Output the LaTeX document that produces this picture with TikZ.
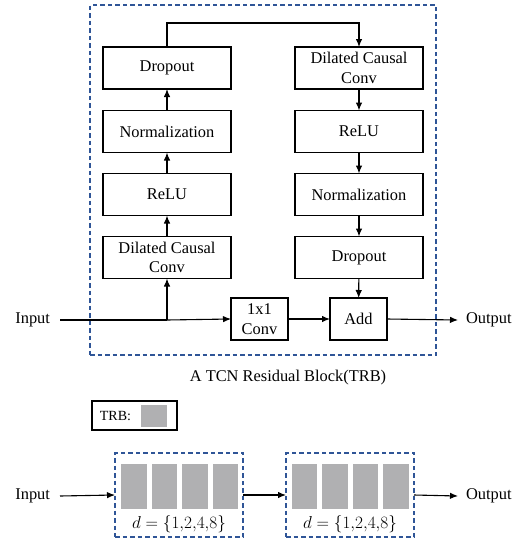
\documentclass[tikz,border=0pt]{standalone}
\usepackage{fontspec}
\setmainfont{Liberation Serif}
\usetikzlibrary{arrows.meta}
\definecolor{dashblue}{RGB}{47,85,151}
\definecolor{trbgray}{RGB}{176,176,178}
\begin{document}
\begin{tikzpicture}[x=1pt,y=-1pt,
  font=\fontsize{16.4}{19.5}\selectfont,
  every node/.style={inner sep=0pt, outer sep=0pt},
  blockbox/.style={draw, line width=1.1pt, minimum width=128pt, minimum height=42pt, align=center},
  smallbox/.style={draw, line width=1.1pt, minimum width=57pt, minimum height=42pt, align=center},
  dashframe/.style={draw=dashblue, line width=1.1pt, dash pattern=on 4.5pt off 3pt},
  trbcell/.style={fill=trbgray, minimum width=25.5pt, minimum height=45pt},
  flow/.style={line width=1.1pt, -{Latex[length=8pt,width=6.5pt]}},
  plain/.style={line width=1.1pt}]
\useasboundingbox (0,0) rectangle (524,541);

% residual block frame
\node[dashframe, minimum width=346pt, minimum height=350pt] (frame) at (263,180) {};

% left branch (bottom to top)
\node[blockbox] (ldcc) at (167,257.5) {Dilated Causal\\Conv};
\node[blockbox] (lrelu) at (167,194.5) {ReLU};
\node[blockbox] (lnorm) at (167,131.5) {Normalization};
\node[blockbox] (ldrop) at (167,68) {Dropout};

% right branch (top to bottom)
\node[blockbox] (rdcc) at (359,68) {Dilated Causal\\Conv};
\node[blockbox] (rrelu) at (359,131.5) {ReLU};
\node[blockbox] (rnorm) at (359,194.5) {Normalization};
\node[blockbox] (rdrop) at (359,257.5) {Dropout};

% shortcut path
\node[smallbox] (conv) at (259.5,319) {1x1\\Conv};
\node[smallbox] (add) at (358.5,319) {Add};

\node[anchor=east] (in) at (50,320) {Input};
\node[anchor=west] (out) at (466,320) {Output};
\coordinate (split) at (167,320);
\coordinate (inend) at (60,320);
\coordinate (outend) at (458,320);
\coordinate (topl) at (167,23);
\coordinate (topr) at (359,23);

\draw[plain] (inend) -- (split);
\draw[flow] (split) -- (conv.west);
\draw[flow] (split) -- (ldcc.south);
\draw[flow] (ldcc) -- (lrelu);
\draw[flow] (lrelu) -- (lnorm);
\draw[flow] (lnorm) -- (ldrop);
\draw[flow] (ldrop.north) -- (topl) -- (topr) -- (rdcc.north);
\draw[flow] (rdcc) -- (rrelu);
\draw[flow] (rrelu) -- (rnorm);
\draw[flow] (rnorm) -- (rdrop);
\draw[flow] (rdrop) -- (add);
\draw[flow] (conv) -- (add);
\draw[flow] (add.east) -- (outend);

\node (caption) at (288,378) {A TCN Residual Block(TRB)};

% legend
\node[draw, line width=1.1pt, minimum width=85pt, minimum height=29pt] (legend) at (134.5,415.5) {};
\node[font=\fontsize{14}{16}\selectfont] (legtext) at (115.5,416) {TRB:};
\node[fill=trbgray, minimum width=26pt, minimum height=22pt] (legcell) at (154,416) {};

% stacked blocks
\node[dashframe, minimum width=128pt, minimum height=84pt] (stackA) at (179,495) {};
\node[dashframe, minimum width=128pt, minimum height=84pt] (stackB) at (350,495) {};
\foreach \x [count=\i] in {134,164.5,195,225.5}
  \node[trbcell] (a\i) at (\x,486.7) {};
\foreach \x [count=\i] in {304.7,335.2,365.7,396.2}
  \node[trbcell] (b\i) at (\x,486.7) {};
\node (dA) at (179,524) {$d=\{1{,}2{,}4{,}8\}$};
\node (dB) at (350,524) {$d=\{1{,}2{,}4{,}8\}$};

\node[anchor=east] (in2) at (50,496) {Input};
\node[anchor=west] (out2) at (466,496) {Output};
\coordinate (in2end) at (60,496);
\coordinate (out2end) at (458,496);
\draw[flow] (in2end) -- (stackA.west);
\draw[flow] (stackA.east) -- (stackB.west);
\draw[flow] (stackB.east) -- (out2end);
\end{tikzpicture}
\end{document}
